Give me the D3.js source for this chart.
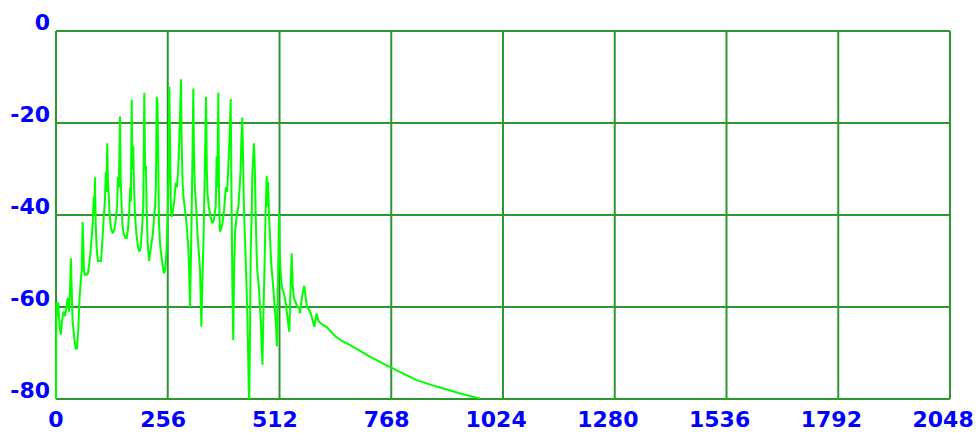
<!DOCTYPE html>
<html>
<head>
<meta charset="utf-8">
<script src="https://cdn.jsdelivr.net/npm/d3@7"></script>
<style>
  html, body { margin: 0; padding: 0; background: #ffffff; }
  svg { display: block; }
</style>
</head>
<body>
<svg id="chart" width="979" height="433"></svg>
<script>
// ---- data ----
const xTicks = [0, 256, 512, 768, 1024, 1280, 1536, 1792, 2048];
const yTicks = [0, -20, -40, -60, -80];
const xDomain = [0, 2048];
const yDomain = [-80, 0];

// spectrum vertices: bin index
const bins = [
  0, 1, 3, 5, 8, 11, 14, 17, 21, 24, 27, 30, 32, 34, 36, 38, 42, 45, 48, 51,
  54, 57, 59, 61, 62.5, 64, 66, 70, 73, 77, 80, 84, 86.5, 88, 89.3, 91, 93, 96, 100, 103,
  106, 109, 112, 114, 115.5, 117.5, 119, 121, 123, 126, 130, 134, 137, 140, 142, 144, 146.6, 148, 150, 152,
  155, 159, 162, 165, 168, 170, 171.5, 173.4, 175, 177, 178.5, 181, 184, 188, 191, 194, 197, 200, 202.3, 204,
  206, 207.5, 210, 213, 216, 219, 222, 225, 227, 229, 230.7, 232.5, 234.5, 236, 239, 243, 247, 250, 253, 256,
  258, 259.5, 261, 263, 265, 268, 271, 274, 277, 280, 283, 286.4, 288, 290, 292, 294.5, 297, 300, 303, 305,
  307, 309, 311, 313, 314.5, 316, 318, 321, 324, 327, 330, 333, 335, 338, 341, 343.6, 345.5, 347, 350, 354,
  358, 362, 366, 368, 369.5, 371.8, 373.5, 375.5, 378, 381, 385, 389, 392, 395, 398, 400.2, 402, 404, 406, 408,
  410, 414, 418, 421, 423, 424.5, 426.8, 428.5, 430, 432, 434, 436, 438.5, 440.5, 442.5, 444.5, 446, 448, 450, 453.6,
  455.5, 457.5, 459.5, 461, 465, 468.5, 471, 473, 475, 477.5, 480, 482.7, 484.5, 486, 488, 490.5, 493, 497, 501, 504,
  506, 508.5, 510.9, 512.5, 515, 518, 522, 526, 530, 534.5, 537, 539.9, 542, 545, 549, 553, 557, 559, 562, 565,
  568.8, 572, 575, 579, 584, 588, 592, 597, 601, 606, 613, 620, 639, 657, 674, 719, 770, 826, 872, 926,
  971
];
// spectrum vertices: level in dB
const levels = [
  -80, -59, -62, -59, -64, -66, -63, -61, -62, -60, -58, -61, -57, -49.4, -56, -63, -67, -69, -69, -65,
  -58, -54, -52, -41.5, -46, -52, -53, -53, -52.7, -50, -47, -42, -36, -40, -31.8, -42, -47, -50, -50, -50,
  -46, -41, -37, -30.6, -35, -24.4, -33, -36, -40, -43, -44, -43, -41, -38, -31.7, -34, -18.6, -32, -37, -42,
  -44, -45, -45, -43, -39, -34, -37, -14.9, -30, -25, -33, -40, -44, -47, -48, -47, -43, -38, -13.4, -30,
  -29.3, -38, -46, -50, -48, -46, -44, -40, -38.3, -33, -14.3, -15.7, -30, -42, -47, -50, -52.7, -52, -48, -40,
  -30, -12.1, -22, -38, -40.4, -39, -37, -33, -34, -30, -22, -10.5, -25, -33, -36, -38, -40, -43, -47, -52,
  -60, -50, -38, -25, -12.5, -26, -34, -38, -44, -48, -52, -64.3, -56, -45, -30, -14.3, -30, -35.3, -38.2, -40.3,
  -41.8, -41, -38, -27.3, -34, -13.4, -35, -43.6, -43, -42, -39, -34, -35, -29, -22, -14.8, -35, -55, -67.2, -52,
  -44, -40, -38, -33.6, -30, -24, -18.8, -27, -36, -43, -48, -54, -62, -72, -82, -65, -47.6, -41, -30.2, -24.4,
  -30.2, -40, -48, -52, -56, -62, -68, -72.6, -62, -52, -40, -31.5, -38, -32.8, -40, -45.4, -50.5, -55, -60, -64,
  -68.6, -55, -39.6, -48.3, -53, -56, -57, -59, -62, -65.4, -57, -48.3, -55, -58, -59, -60, -60, -61.4, -59, -57,
  -55.4, -58, -60, -60.5, -61.5, -63, -64.3, -61.4, -63, -63.5, -64, -64.3, -66.3, -67.5, -68.3, -70.8, -73.3, -75.9, -77.3, -78.8,
  -79.9
];

// ---- layout ----
const plot = { left: 56, right: 950, top: 31, bottom: 399 };
const gridColor = "#2e962e";
const lineColor = "#00ff00";
const textColor = "#0000ff";
const fontSpec = "'DejaVu Sans', sans-serif";

const svg = d3.select("#chart");
const x = d3.scaleLinear().domain(xDomain).range([plot.left, plot.right]);
const y = d3.scaleLinear().domain(yDomain).range([plot.bottom, plot.top]);

// grid
const grid = svg.append("g");
grid.selectAll("line.v").data(xTicks).enter().append("line")
  .attr("x1", d => x(d)).attr("x2", d => x(d))
  .attr("y1", plot.top).attr("y2", plot.bottom)
  .attr("stroke", gridColor).attr("stroke-width", 2);
grid.selectAll("line.h").data(yTicks).enter().append("line")
  .attr("x1", plot.left).attr("x2", plot.right)
  .attr("y1", d => y(d)).attr("y2", d => y(d))
  .attr("stroke", gridColor).attr("stroke-width", 2);

// clip
svg.append("clipPath").attr("id", "clip").append("rect")
  .attr("x", plot.left - 1).attr("y", plot.top)
  .attr("width", plot.right - plot.left + 2).attr("height", plot.bottom - plot.top);

// data line
const pts = bins.map((b, i) => [b, levels[i]]);
const line = d3.line().x(d => x(d[0])).y(d => y(d[1]));
svg.append("path")
  .datum(pts)
  .attr("clip-path", "url(#clip)")
  .attr("d", line)
  .attr("fill", "none")
  .attr("stroke", lineColor)
  .attr("stroke-width", 2)
  .attr("stroke-linejoin", "miter")
  .attr("stroke-miterlimit", 2);

// x labels
svg.append("g").selectAll("text").data(xTicks).enter().append("text")
  .attr("x", d => x(d) - (String(d).length - 1) * 2.3)
  .attr("y", 427)
  .attr("text-anchor", "middle")
  .attr("font-family", fontSpec)
  .attr("font-weight", "bold")
  .attr("font-size", 22)
  .attr("fill", textColor)
  .text(d => d);

// y labels
svg.append("g").selectAll("text").data(yTicks).enter().append("text")
  .attr("x", 50)
  .attr("y", d => y(d) - 1)
  .attr("text-anchor", "end")
  .attr("font-family", fontSpec)
  .attr("font-weight", "bold")
  .attr("font-size", 22)
  .attr("fill", textColor)
  .text(d => d);
</script>
</body>
</html>
